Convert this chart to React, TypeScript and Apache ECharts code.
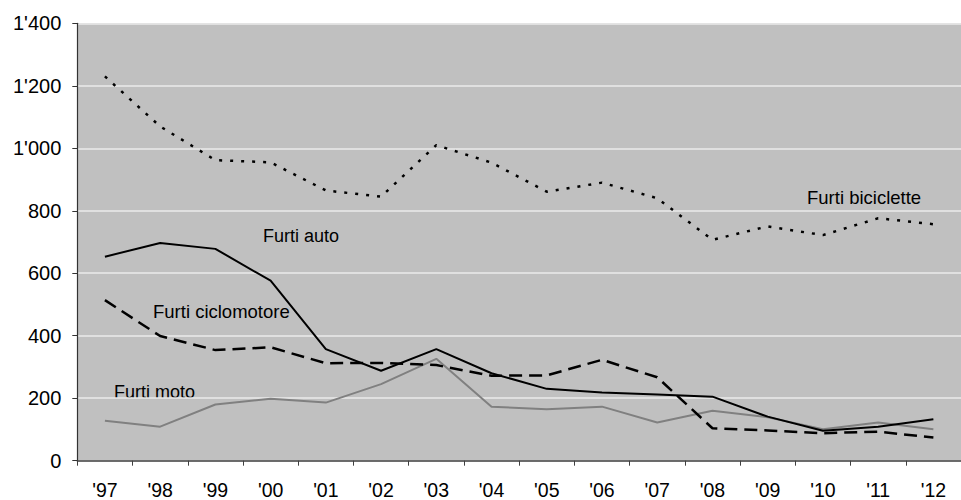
import React, { useEffect, useRef } from "react";
import * as echarts from "echarts";

const years = ["'97", "'98", "'99", "'00", "'01", "'02", "'03", "'04", "'05", "'06", "'07", "'08", "'09", "'10", "'11", "'12"];
const biciclette = [1230, 1070, 962, 955, 865, 845, 1010, 954, 861, 890, 840, 707, 750, 722, 776, 757];
const auto = [653, 697, 678, 576, 357, 288, 357, 280, 230, 218, 212, 205, 141, 96, 109, 133];
const ciclomotore = [514, 399, 354, 363, 312, 313, 306, 272, 273, 323, 267, 104, 97, 88, 93, 74];
const moto = [128, 109, 180, 198, 186, 245, 326, 173, 165, 173, 122, 160, 139, 101, 122, 101];
const yTicks = [0, 200, 400, 600, 800, 1000, 1200, 1400];

const FONT = "'Liberation Sans', Arial, sans-serif";

function fmt(v: number): string {
  if (v >= 1000) {
    const th = Math.floor(v / 1000);
    const rest = String(v % 1000).padStart(3, "0");
    return th + "'" + rest;
  }
  return String(v);
}

export default function App() {
  const ref = useRef<HTMLDivElement>(null);
  useEffect(() => {
    document.body.style.margin = "0";
    if (!ref.current) return;
    const chart = echarts.init(ref.current, undefined, { renderer: "svg" });
    chart.setOption({
      animation: false,
      backgroundColor: "#ffffff",
      grid: {
        left: 77.3,
        top: 23.3,
        width: 893.9,
        height: 437.4,
        show: true,
        backgroundColor: "#c0c0c0",
        borderWidth: 0,
      },
      xAxis: {
        type: "category",
        data: years,
        boundaryGap: true,
        axisLine: { show: true, lineStyle: { color: "#404040", width: 1.5 } },
        axisTick: { show: true, length: 5, alignWithLabel: false, interval: 0, lineStyle: { color: "#404040", width: 1 } },
        axisLabel: { interval: 0, fontSize: 19.5, color: "#000", margin: 19, fontFamily: FONT },
        splitLine: { show: false },
      },
      yAxis: {
        type: "value",
        min: yTicks[0],
        max: yTicks[yTicks.length - 1],
        interval: 200,
        axisLine: { show: true, lineStyle: { color: "#333", width: 1.2 } },
        axisTick: { show: true, length: 5, lineStyle: { color: "#333", width: 1 } },
        axisLabel: { fontSize: 20, color: "#000", margin: 16, fontFamily: FONT, formatter: (v: number) => fmt(v) },
        splitLine: { show: true, lineStyle: { color: "#ebebeb", width: 1.5 } },
      },
      series: [
        {
          name: "Furti moto",
          type: "line",
          data: moto,
          showSymbol: false,
          lineStyle: { color: "#808080", width: 2 },
        },
        {
          name: "Furti ciclomotore",
          type: "line",
          data: ciclomotore,
          showSymbol: false,
          lineStyle: { color: "#000", width: 2.5, type: [13, 7] },
        },
        {
          name: "Furti auto",
          type: "line",
          data: auto,
          showSymbol: false,
          lineStyle: { color: "#000", width: 2 },
        },
        {
          name: "Furti biciclette",
          type: "line",
          data: biciclette,
          showSymbol: false,
          lineStyle: { color: "#000", width: 2.5, type: [3, 8] },
        },
      ],
      graphic: [
        { type: "text", left: 263, top: 227, style: { text: "Furti auto", font: "18px " + FONT, fill: "#000" } },
        { type: "text", left: 153, top: 302, style: { text: "Furti ciclomotore", font: "18.5px " + FONT, fill: "#000" } },
        { type: "text", left: 114, top: 383, style: { text: "Furti moto", font: "18px " + FONT, fill: "#000" } },
        { type: "text", left: 807, top: 188, style: { text: "Furti biciclette", font: "18.5px " + FONT, fill: "#000" } },
      ],
    });
    return () => chart.dispose();
  }, []);
  return <div ref={ref} style={{ width: 961, height: 500 }} />;
}
